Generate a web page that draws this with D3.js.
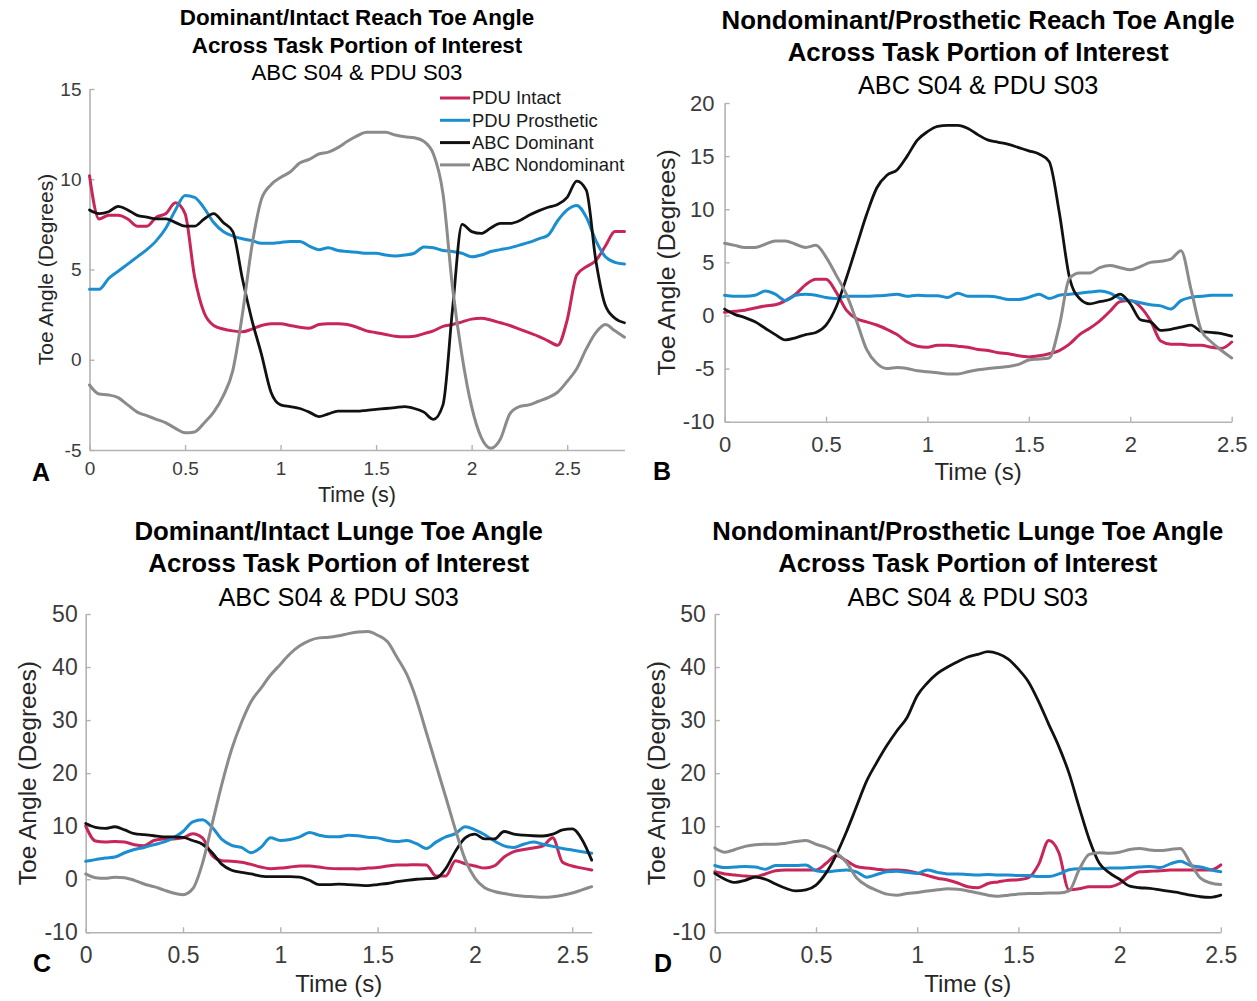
<!DOCTYPE html>
<html>
<head>
<meta charset="utf-8">
<script src="https://cdn.jsdelivr.net/npm/d3@7"></script>
<style>
  body { margin: 0; background: #fff; }
  svg { display: block; font-family: "Liberation Sans", Arial, Helvetica, sans-serif; }
</style>
</head>
<body>
<div id="chart"></div>
<script>
// sampling interval of every series (seconds)
const step = 0.05;

const seriesNames = ['PDU Intact', 'PDU Prosthetic', 'ABC Dominant', 'ABC Nondominant'];
const seriesColors = ['#c82559', '#1b8ecf', '#111111', '#8b8b8b'];

// ---- Panel A: reach, dominant/intact side (0 - 2.8 s)
const intactA = [10.2, 7.8, 8.0, 8.0, 7.8, 7.4, 7.4, 7.9, 8.1, 8.7,
  8.1, 4.6, 2.6, 1.9, 1.7, 1.6, 1.55, 1.7, 1.9, 2.0,
  2.0, 1.9, 1.8, 1.75, 1.95, 2.0, 2.0, 1.95, 1.8, 1.6,
  1.5, 1.4, 1.3, 1.27, 1.3, 1.45, 1.6, 1.85, 1.95, 2.1,
  2.25, 2.3, 2.2, 2.05, 1.9, 1.7, 1.5, 1.3, 1.05, 0.8,
  2.2, 4.7, 5.15, 5.5, 6.3, 7.1, 7.1];
const prostheticA = [3.9, 3.9, 4.5, 4.9, 5.3, 5.7, 6.1, 6.6, 7.3, 8.3,
  9.1, 9.0, 8.4, 7.6, 7.1, 6.85, 6.7, 6.6, 6.45, 6.45,
  6.5, 6.55, 6.55, 6.3, 6.1, 6.2, 6.05, 6.0, 5.95, 5.9,
  5.9, 5.8, 5.75, 5.8, 5.9, 6.25, 6.2, 6.05, 6.0, 5.9,
  5.7, 5.8, 6.0, 6.1, 6.2, 6.35, 6.5, 6.7, 6.9, 7.7,
  8.3, 8.55, 7.9, 6.6, 5.7, 5.4, 5.3];
const dominantA = [8.3, 8.1, 8.2, 8.5, 8.3, 8.0, 7.9, 7.8, 7.8, 7.6,
  7.4, 7.4, 7.8, 8.1, 7.6, 7.1, 4.5, 2.2, 0.3, -1.8,
  -2.5, -2.6, -2.7, -2.9, -3.15, -3.0, -2.85, -2.85, -2.85, -2.8,
  -2.75, -2.7, -2.65, -2.6, -2.7, -2.9, -3.3, -2.5, 2.8, 7.5,
  7.1, 7.0, 7.3, 7.55, 7.55, 7.7, 8.0, 8.25, 8.45, 8.6,
  9.0, 9.9, 9.4, 5.5, 3.0, 2.3, 2.05];
const nondominantA = [-1.4, -1.9, -1.95, -2.1, -2.5, -2.9, -3.1, -3.3, -3.5, -3.8,
  -4.05, -4.0, -3.5, -2.9, -2.0, -0.6, 2.5, 6.3, 8.9, 9.7,
  10.1, 10.4, 10.9, 11.1, 11.4, 11.5, 11.75, 12.1, 12.4, 12.6,
  12.6, 12.6, 12.45, 12.35, 12.3, 12.1, 11.4, 9.2, 4.0, 0.2,
  -2.6, -4.3, -4.9, -4.4, -3.0, -2.6, -2.5, -2.3, -2.1, -1.8,
  -1.2, -0.5, 0.6, 1.5, 1.95, 1.6, 1.25];

// ---- Panel B: reach, nondominant/prosthetic side (0 - 2.5 s)
const intactB = [0.3, 0.4, 0.5, 0.7, 0.9, 1.0, 1.4, 2.0, 2.9, 3.4,
  3.4, 2.2, 0.5, -0.3, -0.6, -0.9, -1.3, -1.8, -2.5, -2.9,
  -3.0, -2.8, -2.8, -2.9, -3.0, -3.2, -3.3, -3.5, -3.6, -3.8,
  -3.9, -3.8, -3.6, -3.3, -2.7, -1.8, -1.2, -0.5, 0.4, 1.3,
  1.4, 0.8, -0.5, -2.4, -2.7, -2.7, -2.8, -2.8, -3.0, -3.1,
  -2.5];
const prostheticB = [1.9, 1.8, 1.8, 1.9, 2.3, 2.0, 1.4, 1.9, 2.0, 1.9,
  1.7, 1.6, 1.8, 1.8, 1.8, 1.85, 1.9, 2.0, 1.8, 1.9,
  1.85, 1.85, 1.7, 2.1, 1.8, 1.8, 1.8, 1.7, 1.5, 1.5,
  1.7, 2.0, 1.6, 1.9, 2.0, 2.1, 2.2, 2.3, 2.1, 1.6,
  1.4, 1.2, 1.0, 0.9, 0.6, 1.4, 1.7, 1.8, 1.9, 1.9,
  1.9];
const dominantB = [0.6, 0.1, -0.2, -0.6, -1.2, -1.8, -2.3, -2.1, -1.8, -1.6,
  -0.9, 0.8, 3.5, 6.5, 9.5, 12.0, 13.2, 13.7, 15.0, 16.5,
  17.3, 17.8, 17.9, 17.9, 17.6, 17.0, 16.5, 16.3, 16.1, 15.8,
  15.5, 15.2, 14.5, 9.7, 3.6, 1.6, 1.1, 1.3, 1.5, 2.0,
  1.1, -0.4, -0.6, -1.4, -1.3, -1.1, -0.9, -1.5, -1.6, -1.7,
  -1.95];
const nondominantB = [6.8, 6.6, 6.4, 6.4, 6.7, 7.0, 7.0, 6.7, 6.4, 6.6,
  5.5, 3.8, 2.0, -0.5, -3.2, -4.5, -5.0, -4.9, -5.0, -5.2,
  -5.3, -5.4, -5.5, -5.5, -5.3, -5.1, -5.0, -4.9, -4.8, -4.6,
  -4.2, -4.1, -4.0, -1.0, 3.5, 4.0, 4.0, 4.5, 4.7, 4.5,
  4.3, 4.6, 5.0, 5.1, 5.3, 6.1, 2.4, -1.4, -2.5, -3.3,
  -4.0];

// ---- Panel C: lunge, dominant/intact side (0 - 2.6 s)
const intactC = [10.0, 7.2, 7.0, 7.1, 7.0, 6.5, 6.3, 7.3, 7.6, 7.6,
  7.8, 8.6, 7.8, 4.5, 3.5, 3.4, 3.2, 2.8, 2.3, 2.0,
  2.1, 2.3, 2.5, 2.5, 2.3, 2.05, 2.0, 2.0, 1.95, 2.1,
  2.2, 2.5, 2.7, 2.7, 2.75, 2.7, 0.6, 0.6, 3.5, 2.9,
  2.5, 2.1, 2.5, 4.2, 5.2, 5.6, 5.9, 6.3, 7.8, 3.2,
  2.5, 2.1, 1.75];
const prostheticC = [3.4, 3.7, 4.0, 4.2, 5.0, 5.6, 6.0, 6.5, 7.0, 7.8,
  9.0, 10.8, 11.2, 9.8, 7.5, 6.4, 6.0, 5.0, 6.0, 7.8,
  7.3, 7.5, 8.0, 8.8, 8.3, 8.0, 8.0, 8.3, 8.2, 7.9,
  7.8, 7.3, 7.1, 7.3, 6.7, 5.8, 7.0, 8.0, 8.6, 9.9,
  9.3, 8.4, 7.2, 6.3, 6.0, 6.6, 7.0, 6.6, 6.2, 5.8,
  5.5, 5.2, 4.9];
const dominantC = [10.5, 9.8, 9.6, 9.9, 9.3, 8.6, 8.4, 8.2, 8.0, 8.0,
  7.9, 7.3, 6.6, 5.0, 2.8, 1.7, 1.3, 1.0, 0.6, 0.5,
  0.5, 0.5, 0.4, -0.2, -1.0, -1.0, -0.9, -1.0, -1.1, -1.2,
  -1.0, -0.8, -0.45, -0.2, 0.0, 0.1, 0.2, 2.0, 5.3, 7.8,
  8.5, 7.6, 7.6, 9.0, 8.5, 8.3, 8.2, 8.15, 8.5, 9.3,
  9.5, 7.5, 3.6];
const nondominantC = [1.0, 0.3, 0.2, 0.4, 0.3, -0.2, -0.9, -1.4, -2.0, -2.6,
  -2.9, -1.8, 3.0, 10.5, 18.0, 24.5, 29.5, 33.5, 36.0, 38.5,
  40.5, 42.5, 44.0, 45.0, 45.5, 45.6, 45.9, 46.3, 46.6, 46.7,
  46.0, 44.8, 41.8, 38.6, 33.8, 27.7, 21.6, 15.5, 9.3, 3.7,
  0.2, -1.6, -2.3, -2.7, -3.0, -3.2, -3.3, -3.4, -3.3, -3.0,
  -2.6, -2.0, -1.4];

// ---- Panel D: lunge, nondominant/prosthetic side (0 - 2.5 s)
const intactD = [1.4, 1.0, 0.8, 0.6, 0.5, 1.0, 1.6, 1.75, 1.75, 1.75,
  1.75, 3.0, 4.5, 3.5, 2.4, 2.1, 1.9, 1.7, 1.75, 1.6,
  1.2, 0.7, 0.2, -0.15, -0.7, -1.4, -1.6, -0.8, -0.5, -0.2,
  -0.1, 0.3, 2.8, 7.3, 5.0, -2.0, -1.8, -1.4, -1.4, -1.4,
  -0.8, 0.5, 1.4, 1.5, 1.6, 1.75, 1.75, 1.75, 1.75, 1.75,
  2.7];
const prostheticD = [2.6, 2.2, 2.3, 2.4, 2.3, 1.9, 2.6, 2.6, 2.6, 2.7,
  1.6, 1.4, 1.6, 1.75, 1.4, 0.4, 0.9, 1.4, 1.5, 1.3,
  1.1, 1.75, 1.3, 1.0, 1.0, 0.9, 0.8, 0.9, 0.8, 0.8,
  0.7, 0.7, 0.5, 0.5, 1.0, 1.8, 2.0, 2.0, 2.0, 2.1,
  2.1, 2.2, 2.3, 2.4, 2.2, 2.9, 3.4, 2.6, 2.3, 1.8,
  1.4];
const dominantD = [1.1, 0.0, -0.6, -0.2, 0.4, 0.0, -0.9, -1.7, -2.2, -2.0,
  -1.1, 1.2, 4.6, 8.9, 13.7, 18.5, 22.0, 25.2, 28.0, 30.5,
  34.6, 37.0, 38.8, 40.0, 41.0, 41.9, 42.4, 42.9, 42.5, 41.5,
  39.6, 37.2, 33.5, 29.2, 25.0, 20.0, 13.6, 7.5, 3.0, 1.2,
  0.0, -1.3, -1.6, -1.7, -2.0, -2.3, -2.6, -3.0, -3.3, -3.4,
  -3.0];
const nondominantD = [5.9, 5.1, 5.6, 6.2, 6.5, 6.6, 6.6, 6.8, 7.1, 7.3,
  6.6, 6.0, 5.0, 3.2, 0.3, -1.2, -2.1, -2.8, -3.0, -2.7,
  -2.5, -2.2, -2.0, -1.8, -1.9, -2.2, -2.6, -3.0, -3.2, -3.0,
  -2.8, -2.7, -2.7, -2.6, -2.6, -2.2, 1.8, 4.7, 5.0, 4.9,
  5.1, 5.6, 5.8, 5.5, 5.4, 5.6, 5.8, 3.0, 0.2, -0.7,
  -1.0];

// ---- tick values
const xTicksA = [0, 0.5, 1, 1.5, 2, 2.5];
const xTicksB = [0, 0.5, 1, 1.5, 2, 2.5];
const yTicksA = [-5, 0, 5, 10, 15];
const yTicksB = [-10, -5, 0, 5, 10, 15, 20];
const yTicksCD = [-10, 0, 10, 20, 30, 40, 50];

// ---- titles
const titleReachDom = ['Dominant/Intact Reach Toe Angle', 'Across Task Portion of Interest'];
const titleReachNon = ['Nondominant/Prosthetic Reach Toe Angle', 'Across Task Portion of Interest'];
const titleLungeDom = ['Dominant/Intact Lunge Toe Angle', 'Across Task Portion of Interest'];
const titleLungeNon = ['Nondominant/Prosthetic Lunge Toe Angle', 'Across Task Portion of Interest'];
const subtitle = 'ABC S04 & PDU S03';
const xLabel = 'Time (s)';
const yLabel = 'Toe Angle (Degrees)';

const width = 1257, height = 1001;
const svg = d3.select('#chart').append('svg')
  .attr('width', width)
  .attr('height', height);

const panels = [
  { letter: 'A', series: [intactA, prostheticA, dominantA, nondominantA],
    xMax: 2.8, yDomain: [-5, 15], xTicks: xTicksA, yTicks: yTicksA, title: titleReachDom,
    box: { left: 89.5, right: 624.5, top: 89, bottom: 450 },
    tickSize: 19, xPad: 11.5, yPad: 8,
    titleY: [17, 45, 72], titleSize: 22.4, subSize: 22.2,
    xLabelY: 494, xLabelSize: 21.5, yLabelX: 46, yLabelSize: 21,
    letterPos: [41, 472], legend: true },
  { letter: 'B', series: [intactB, prostheticB, dominantB, nondominantB],
    xMax: 2.5, yDomain: [-10, 20], xTicks: xTicksB, yTicks: yTicksB, title: titleReachNon,
    box: { left: 724.6, right: 1231.7, top: 103, bottom: 421.7 },
    tickSize: 22, xPad: 14.4, yPad: 10,
    titleY: [20, 52, 85], titleSize: 25.8, subSize: 25.3,
    xLabelY: 472, xLabelSize: 24, yLabelX: 666, yLabelSize: 24.8,
    letterPos: [662, 471], legend: false },
  { letter: 'C', series: [intactC, prostheticC, dominantC, nondominantC],
    xMax: 2.6, yDomain: [-10, 50], xTicks: xTicksA, yTicks: yTicksCD, title: titleLungeDom,
    box: { left: 85.7, right: 591.7, top: 614, bottom: 932.3 },
    tickSize: 23, xPad: 14.4, yPad: 8,
    titleY: [531, 563, 597], titleSize: 25.8, subSize: 25.3,
    xLabelY: 984, xLabelSize: 24, yLabelX: 27, yLabelSize: 24.6,
    letterPos: [42, 963], legend: false },
  { letter: 'D', series: [intactD, prostheticD, dominantD, nondominantD],
    xMax: 2.5, yDomain: [-10, 50], xTicks: xTicksB, yTicks: yTicksCD, title: titleLungeNon,
    box: { left: 714.8, right: 1220.8, top: 614, bottom: 932.3 },
    tickSize: 23, xPad: 14.4, yPad: 9,
    titleY: [531, 563, 597], titleSize: 25.7, subSize: 25.3,
    xLabelY: 984, xLabelSize: 24, yLabelX: 656, yLabelSize: 24.6,
    letterPos: [663, 963], legend: false }
];

const axisColor = '#b3b3b3';
const tickTextColor = '#3c3c3c';

panels.forEach(p => {
  const { left, right, top, bottom } = p.box;
  const x = d3.scaleLinear().domain([0, p.xMax]).range([left, right]);
  const y = d3.scaleLinear().domain(p.yDomain).range([bottom, top]);
  const g = svg.append('g').attr('class', 'panel-' + p.letter);

  // axes (MATLAB style: ticks point inward, no box)
  const xAxis = g.append('g')
    .attr('transform', `translate(0,${bottom})`)
    .call(d3.axisBottom(x).tickValues(p.xTicks).tickSizeInner(-5).tickSizeOuter(0)
      .tickPadding(p.xPad).tickFormat(d => String(d)));
  const yAxis = g.append('g')
    .attr('transform', `translate(${left},0)`)
    .call(d3.axisLeft(y).tickValues(p.yTicks).tickSizeInner(-5).tickSizeOuter(0)
      .tickPadding(p.yPad).tickFormat(d => String(d)));

  [xAxis, yAxis].forEach(a => {
    a.select('.domain').attr('stroke', axisColor).attr('stroke-width', 1.6);
    a.selectAll('.tick line').attr('stroke', axisColor).attr('stroke-width', 1.4);
    a.selectAll('.tick text')
      .attr('fill', tickTextColor)
      .style('font-size', p.tickSize + 'px')
      .style('font-family', '"Liberation Sans", Arial, sans-serif');
  });

  // series lines
  const time = p.series[0].map((_, i) => i * step);
  const line = d3.line()
    .x((d, i) => x(time[i]))
    .y(d => y(d))
    .curve(d3.curveMonotoneX);

  p.series.forEach((vals, si) => {
    g.append('path')
      .datum(vals)
      .attr('fill', 'none')
      .attr('stroke', seriesColors[si])
      .attr('stroke-width', si === 2 ? 2.8 : 3)
      .attr('stroke-linejoin', 'round')
      .attr('stroke-linecap', 'round')
      .attr('d', line);
  });

  // titles
  const cx = (left + right) / 2;
  p.title.forEach((t, i) => {
    g.append('text')
      .attr('x', cx)
      .attr('y', p.titleY[i])
      .attr('dy', '0.35em')
      .attr('text-anchor', 'middle')
      .style('font-size', p.titleSize + 'px')
      .style('font-weight', 'bold')
      .attr('fill', '#000')
      .text(t);
  });
  g.append('text')
    .attr('x', cx)
    .attr('y', p.titleY[2])
    .attr('dy', '0.35em')
    .attr('text-anchor', 'middle')
    .style('font-size', p.subSize + 'px')
    .attr('fill', '#000')
    .text(subtitle);

  // axis labels
  g.append('text')
    .attr('x', cx)
    .attr('y', p.xLabelY)
    .attr('dy', '0.35em')
    .attr('text-anchor', 'middle')
    .style('font-size', p.xLabelSize + 'px')
    .attr('fill', '#262626')
    .text(xLabel);
  g.append('text')
    .attr('transform', `translate(${p.yLabelX},${(top + bottom) / 2}) rotate(-90)`)
    .attr('dy', '0.35em')
    .attr('text-anchor', 'middle')
    .style('font-size', p.yLabelSize + 'px')
    .attr('fill', '#262626')
    .text(yLabel);

  // panel letter
  g.append('text')
    .attr('x', p.letterPos[0])
    .attr('y', p.letterPos[1])
    .attr('dy', '0.36em')
    .attr('text-anchor', 'middle')
    .style('font-size', '25px')
    .style('font-weight', 'bold')
    .attr('fill', '#000')
    .text(p.letter);

  // legend (panel A only)
  if (p.legend) {
    const lg = g.append('g').attr('transform', 'translate(440,98)');
    seriesNames.forEach((name, i) => {
      const row = lg.append('g').attr('transform', `translate(0,${i * 22.3})`);
      row.append('line')
        .attr('x1', 0).attr('x2', 30)
        .attr('y1', 0).attr('y2', 0)
        .attr('stroke', seriesColors[i])
        .attr('stroke-width', 3);
      row.append('text')
        .attr('x', 32)
        .attr('dy', '0.35em')
        .style('font-size', '18.4px')
        .attr('fill', '#1a1a1a')
        .text(name);
    });
  }
});
</script>
</body>
</html>
